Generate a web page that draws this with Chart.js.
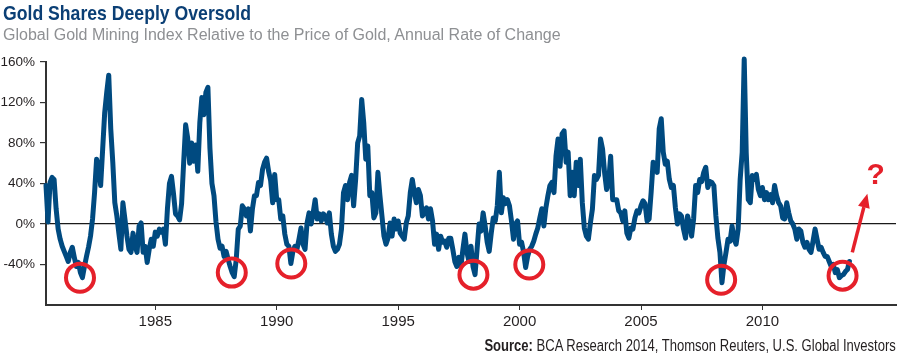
<!DOCTYPE html>
<html>
<head>
<meta charset="utf-8">
<script src="https://cdn.jsdelivr.net/npm/chart.js@4.4.1/dist/chart.umd.min.js"></script>
<style>
  html, body { margin: 0; padding: 0; background: #fff; }
  #wrap { position: relative; width: 900px; height: 364px; overflow: hidden; }
  #chart { position: absolute; left: 0; top: 0; }
  .title { position: absolute; left: 3px; top: 2px; white-space: nowrap; color: #0b3f75;
    font: bold 21px/21px "Liberation Sans", Arial, sans-serif;
    transform: scaleX(0.84); transform-origin: 0 0; }
  .subtitle { position: absolute; left: 3px; top: 27px; white-space: nowrap; color: #8e9093;
    font: 16px/16px "Liberation Sans", Arial, sans-serif; }
  .source { position: absolute; right: 4px; top: 338px; white-space: nowrap; color: #231f20;
    font: 16px/16px "Liberation Sans", Arial, sans-serif;
    transform: scaleX(0.815); transform-origin: 100% 0; }
</style>
</head>
<body>
<div id="wrap">
  <canvas id="chart" width="900" height="364"></canvas>
  <div class="title">Gold Shares Deeply Oversold</div>
  <div class="subtitle">Global Gold Mining Index Relative to the Price of Gold, Annual Rate of Change</div>
  <div class="source"><b>Source:</b> BCA Research 2014, Thomson Reuters, U.S. Global Investors</div>
</div>
<script>
// monthly readings, first one is mid 1980
var startYear = 1980.5;
var goldMinersVsGold = [
  38, 2, 41, 46, 44, 15, -5, -15, -22, -27, -32, -37,
  -28, -23, -33, -42, -38, -48, -53, -42, -32, -23, -12, 5,
  31, 64, 57, 38, 74, 110, 130, 147, 94, 61, 21, 8,
  -9, -25, 21, 5, -12, -25, -28, -9, -22, -28, -2, 1,
  -28, -22, -38, -25, -15, -22, -8, -12, -5, -8, -5, -20,
  15, 40, 47, 30, 10, 8, 4, 20, 60, 98, 85, 60,
  80, 62, 78, 52, 100, 125, 108, 130, 135, 75, 40, 28,
  2, -15, -24, -22, -32, -27, -35, -42, -48, -52, -35, -5,
  -2, 18, 15, 8, 15, -7, 15, 28, 28, 41, 38, 54,
  61, 65, 52, 43, 21, 49, 24, 24, 5, 8, -10, -20,
  -22, -39, -27, -22, -25, -15, -4, -20, -25, 1, 11, 0,
  11, 24, 5, 10, 3, 10, 8, 1, 11, -10, -22, -27,
  -25, -20, -5, 31, 38, 24, 41, 48, 18, 44, 80, 87,
  123, 100, 64, 77, 28, 31, 6, 11, 51, 28, 8, -12,
  -20, -14, 1, -12, 5, -5, 3, -9, -12, -15, 1, 8,
  31, 44, 31, 21, 34, 28, 8, 11, 16, 5, 15, 3,
  -20, -10, -25, -12, -18, -17, -23, -14, -14, -25, -37, -42,
  -33, -42, -25, -10, -28, -37, -22, -42, -50, -25, 0, -7,
  11, -2, -18, -27, -9, 6, 3, 18, 51, 11, 26, 20,
  24, 18, 3, -15, 0, 3, -20, -18, -28, -43, -32, -25,
  -22, -17, -10, -4, 6, 15, -2, 16, 28, 38, 41, 31,
  67, 84, 57, 89, 92, 61, 71, 28, 51, 28, 61, 38,
  64, 21, -4, -12, -15, 1, 15, 48, 44, 48, 84, 74,
  51, 34, 41, 67, 24, 24, 24, 13, 11, 3, 13, -9,
  -14, -4, -5, 6, 13, 11, 18, 23, 20, 3, 5, 31,
  61, 59, 51, 94, 104, 71, 59, 62, 44, 36, 38, 16,
  0, 10, 8, -5, -14, 8, 0, -12, 5, 38, 31, 44,
  42, 51, 56, 36, 42, 41, 38, 8, -14, -28, -58, -40,
  -28, -15, -17, -2, -15, -20, -5, 44, 71, 163, 70, 24,
  21, 48, 44, 49, 34, 28, 36, 24, 31, 24, 29, 21,
  38, 28, 21, 18, 6, 5, 21, 11, 3, 0, -5, -15,
  -5, -7, -18, -23, -18, -25, -28, -17, -5, -15, -25, -23,
  -28, -32, -32, -37, -42, -40, -48, -45, -53, -51, -50, -47,
  -45, -37
];
var xTickYears = [1985, 1990, 1995, 2000, 2005, 2010];
var yTickValues = [-40, 0, 40, 80, 120, 160];
// circled lows (year, %)
var lowYears = [1981.9, 1988.15, 1990.6, 1998.1, 2000.4, 2008.3, 2013.3];
var lowValues = [-53, -48, -39, -50, -40, -55, -51];

var sans = '"Liberation Sans", Arial, sans-serif';
var lineBlue = "#004a80";
var markRed = "#e5202a";

var points = goldMinersVsGold.map(function (v, i) {
  return { x: startYear + i / 12, y: v };
});

// red circles + arrow + question mark
var oversoldMarks = {
  id: "oversoldMarks",
  afterDatasetsDraw: function (chart) {
    var ctx = chart.ctx;
    var x = chart.scales.x, y = chart.scales.y;
    ctx.save();
    ctx.strokeStyle = markRed;
    ctx.fillStyle = markRed;
    ctx.lineWidth = 4;
    lowYears.forEach(function (yr, k) {
      ctx.beginPath();
      ctx.arc(x.getPixelForValue(yr), y.getPixelForValue(lowValues[k]), 14, 0, Math.PI * 2);
      ctx.stroke();
    });

    var x0 = x.getPixelForValue(2013.7), y0 = y.getPixelForValue(-28);
    var x1 = x.getPixelForValue(2014.32), y1 = y.getPixelForValue(30);
    var ang = Math.atan2(y1 - y0, x1 - x0);
    var headLen = 14, headW = 6;
    var bx = x1 - headLen * Math.cos(ang), by = y1 - headLen * Math.sin(ang);
    ctx.lineWidth = 3.5;
    ctx.beginPath();
    ctx.moveTo(x0, y0);
    ctx.lineTo(bx, by);
    ctx.stroke();
    ctx.beginPath();
    ctx.moveTo(x1, y1);
    ctx.lineTo(bx + headW * Math.sin(ang), by - headW * Math.cos(ang));
    ctx.lineTo(bx - headW * Math.sin(ang), by + headW * Math.cos(ang));
    ctx.closePath();
    ctx.fill();

    ctx.font = "bold 30px " + sans;
    ctx.textAlign = "center";
    ctx.textBaseline = "alphabetic";
    ctx.fillText("?", x.getPixelForValue(2014.66), y.getPixelForValue(40));
    ctx.restore();
  }
};

var chart = new Chart(document.getElementById("chart").getContext("2d"), {
  type: "line",
  data: {
    datasets: [
      {
        data: points,
        borderColor: lineBlue,
        borderWidth: 5,
        borderJoinStyle: "round",
        borderCapStyle: "round",
        pointRadius: 0,
        tension: 0,
        clip: false,
      },
    ],
  },
  options: {
    responsive: false,
    animation: false,
    layout: { padding: { top: 62, right: 4, bottom: 29, left: 0 } },
    plugins: {
      legend: { display: false },
      tooltip: { enabled: false },
    },
    scales: {
      x: {
        type: "linear",
        min: 1980.5,
        max: 2015.5,
        afterBuildTicks: function (axis) {
          axis.ticks = xTickYears.map(function (v) { return { value: v }; });
        },
        afterFit: function (scale) { scale.height = 30; },
        grid: { drawOnChartArea: false, tickLength: 5, color: "#333" },
        border: { color: "#333", width: 2 },
        ticks: {
          color: "#231f20",
          font: { family: sans, size: 15 },
          padding: 3,
          maxRotation: 0,
          callback: function (v) { return String(v); },
        },
      },
      y: {
        min: -80,
        max: 160,
        afterBuildTicks: function (axis) {
          axis.ticks = yTickValues.map(function (v) { return { value: v }; });
        },
        afterFit: function (scale) { scale.width = 46; },
        grid: {
          color: function (c) {
            return c.tick && c.tick.value === 0 ? "#1a1a1a" : "rgba(0,0,0,0)";
          },
          lineWidth: 1.2,
          tickColor: "#333",
          tickLength: 6,
        },
        border: { color: "#333", width: 2 },
        ticks: {
          color: "#231f20",
          font: { family: sans, size: 13.5 },
          padding: 5,
          callback: function (v) { return v + "%"; },
        },
      },
    },
  },
  plugins: [oversoldMarks],
});
</script>
</body>
</html>
